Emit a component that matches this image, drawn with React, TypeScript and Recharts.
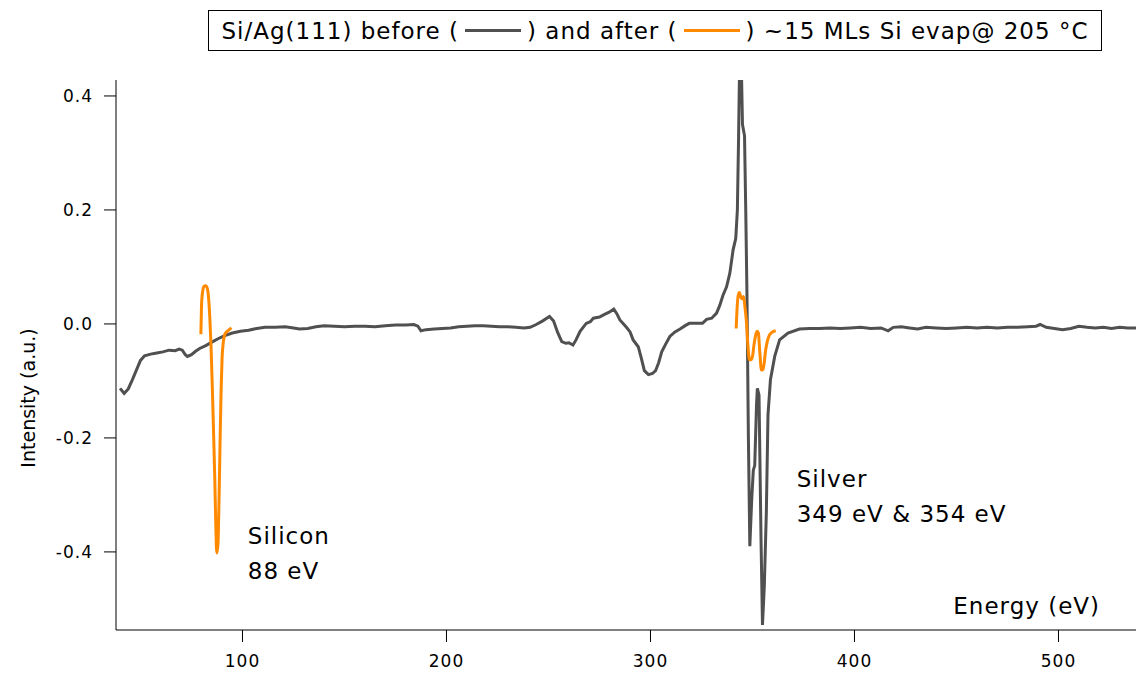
import React from 'react';
import { LineChart, Line, XAxis, YAxis, ReferenceDot } from 'recharts';

// before: Si/Ag(111) clean spectrum (energy eV, intensity a.u.)
const beforeEnergy = [
  40, 42, 44, 46, 48, 50, 52, 55, 58, 61, 64, 67, 69, 70.5, 72, 73, 75, 77, 79, 82, 85, 88, 91, 95, 99,
  103, 107, 111, 116, 121, 125, 128, 132, 136, 140, 145, 150, 155, 160, 165, 170, 175, 180, 184, 186, 187.5,
  190, 194, 198, 202, 206, 210, 214, 218, 222, 226, 230, 234, 238, 241, 244, 247, 250.5, 252.5, 254.5, 256.5,
  258.5, 260, 262, 263.5, 265.5, 268.5, 270.5, 272, 275, 277, 280, 282, 283.5, 285, 288, 290, 291.5, 294,
  295.5, 297, 299, 301, 302.5, 304, 305.5, 307.5, 309.5, 312, 314.5, 317, 319, 322, 325.5, 327.5, 330, 332.4,
  334, 335.5, 337.3, 338.9, 340.5, 341.8, 342.6, 343.2, 343.7, 344.5, 345.1, 346.1, 346.7, 347.3, 348.0, 348.7,
  349.6, 350.4, 351.1, 352.0, 352.4, 353.2, 354.2, 354.9, 355.8, 356.8, 357.6, 358.8, 360.9, 363.3, 367.4, 373,
  378, 383, 388, 393, 398, 403, 408, 413, 416.5, 419, 423, 427, 431, 435, 440, 445, 450, 455, 460, 465, 470,
  475, 480, 485, 489, 491, 494, 498, 502, 506, 510, 514, 518, 522, 526, 530, 534, 538,
];
const beforeIntensity = [
  -0.113, -0.122, -0.114, -0.098, -0.081, -0.064, -0.056, -0.053, -0.051, -0.049, -0.046, -0.047, -0.044, -0.046,
  -0.054, -0.057, -0.054, -0.048, -0.043, -0.038, -0.032, -0.026, -0.021, -0.016, -0.013, -0.011, -0.008, -0.006,
  -0.006, -0.005, -0.007, -0.009, -0.008, -0.005, -0.003, -0.004, -0.005, -0.004, -0.004, -0.005, -0.003, -0.002,
  -0.002, -0.001, -0.004, -0.012, -0.01, -0.009, -0.008, -0.007, -0.005, -0.004, -0.003, -0.003, -0.004, -0.005,
  -0.005, -0.006, -0.007, -0.006, -0.001, 0.005, 0.013, 0.005, -0.015, -0.031, -0.034, -0.033, -0.037, -0.028,
  -0.013, 0.001, 0.004, 0.01, 0.012, 0.016, 0.021, 0.026, 0.018, 0.007, -0.005, -0.014, -0.028, -0.04, -0.06,
  -0.082, -0.089, -0.087, -0.082, -0.068, -0.049, -0.035, -0.022, -0.014, -0.009, -0.003, 0.001, 0.001, 0.001,
  0.008, 0.01, 0.019, 0.033, 0.05, 0.065, 0.089, 0.13, 0.15, 0.2, 0.33, 0.46, 0.46, 0.35, 0.33, 0.2, 0.05, -0.2,
  -0.39, -0.31, -0.257, -0.248, -0.14, -0.113, -0.125, -0.38, -0.528, -0.46, -0.33, -0.16, -0.098, -0.057, -0.028,
  -0.016, -0.009, -0.008, -0.008, -0.007, -0.008, -0.007, -0.006, -0.008, -0.007, -0.012, -0.006, -0.005, -0.007,
  -0.009, -0.006, -0.007, -0.008, -0.007, -0.006, -0.007, -0.006, -0.007, -0.006, -0.006, -0.005, -0.004, -0.001,
  -0.006, -0.008, -0.01, -0.008, -0.004, -0.006, -0.007, -0.006, -0.008, -0.006, -0.007, -0.007,
];

// after: ~15 MLs Si, Si LVV and Ag MNN windows
const afterSiEnergy = [
  79.6, 79.9, 80.4, 81.2, 82.0, 82.8, 83.4, 84.0, 84.6, 85.3, 85.9, 86.4, 86.9, 87.4, 88.0, 88.5, 89.0, 89.5, 90.0,
  90.6, 91.3, 92.2, 93.2, 94.6,
];
const afterSiIntensity = [
  -0.018, 0.03, 0.055, 0.066, 0.067, 0.062, 0.045, 0.01, -0.04, -0.122, -0.2, -0.268, -0.35, -0.402, -0.385, -0.31,
  -0.21, -0.12, -0.06, -0.032, -0.019, -0.014, -0.011, -0.007,
];
const afterAgEnergy = [
  342.0, 342.5, 343.0, 343.6, 344.3, 344.9, 345.6, 346.3, 347.1, 347.8, 348.5, 349.2, 350.0, 350.8, 351.6, 352.3,
  352.9, 353.6, 354.4, 355.1, 355.7, 356.3, 357, 358, 359.5, 361.4,
];
const afterAgIntensity = [
  -0.008, 0.03, 0.05, 0.055, 0.047, 0.044, 0.048, 0.03, 0.001, -0.04, -0.063, -0.063, -0.057, -0.035, -0.019, -0.013,
  -0.016, -0.05, -0.081, -0.08, -0.07, -0.05, -0.035, -0.022, -0.015, -0.012,
];

const xTicks = [100, 200, 300, 400, 500];
const yTicks = [-0.4, -0.2, 0, 0.2, 0.4];

const siliconNote = { e: 102.6, v: -0.386, lines: ['Silicon', '88 eV'] };
const silverNote = { e: 371.7, v: -0.286, lines: ['Silver', '349 eV & 354 eV'] };

const toPoints = (xs: number[], ys: number[]) => xs.map((e, i) => ({ e, v: ys[i] }));

const before = toPoints(beforeEnergy, beforeIntensity);
const afterSi = toPoints(afterSiEnergy, afterSiIntensity);
const afterAg = toPoints(afterAgEnergy, afterAgIntensity);

const GRAY = '#505050';
const ORANGE = '#ff8a00';
const FONT = '"DejaVu Sans", Verdana, sans-serif';

function Note({ viewBox, lines }: any) {
  return (
    <text x={viewBox.x} y={viewBox.y} fontSize={23} letterSpacing={1} fill="#000" fontFamily={FONT}>
      {lines.map((l: string, i: number) => (
        <tspan key={i} x={viewBox.x} dy={i === 0 ? 0 : 35}>
          {l}
        </tspan>
      ))}
    </text>
  );
}

function YTitle({ viewBox }: any) {
  const x = viewBox.x + 28;
  const y = viewBox.y + viewBox.height / 2 + 43;
  return (
    <text x={x} y={y} transform={`rotate(-90 ${x} ${y})`} textAnchor="middle" dominantBaseline="central" fontSize={19} fill="#000">
      Intensity (a.u.)
    </text>
  );
}

function XTitle({ viewBox }: any) {
  return (
    <text x={viewBox.x + viewBox.width - 36} y={viewBox.y - 16} textAnchor="end" fontSize={23} letterSpacing={1} fill="#000">
      Energy (eV)
    </text>
  );
}

function Tick({ x, y, payload, textAnchor, vertical }: any) {
  const label = vertical ? payload.value.toFixed(1) : String(payload.value);
  return (
    <text
      x={x}
      y={y}
      textAnchor={textAnchor}
      dy={vertical ? 6 : 19}
      fontSize={17}
      letterSpacing={1}
      fill="#000"
      fontFamily={FONT}
    >
      {label}
    </text>
  );
}

function LegendBox() {
  const seg = (c: string) => (
    <span style={{ display: 'inline-block', width: 56, height: 3, background: c, margin: '0 6px', verticalAlign: 'middle' }} />
  );
  return (
    <div
      style={{
        position: 'absolute',
        left: 208,
        top: 10,
        width: 894,
        height: 41,
        boxSizing: 'border-box',
        border: '1px solid #000',
        background: '#fff',
        display: 'flex',
        alignItems: 'center',
        justifyContent: 'center',
        fontFamily: FONT,
        fontSize: 23,
        letterSpacing: 1,
        whiteSpace: 'nowrap',
      }}
    >
      Si/Ag(111) before ({seg(GRAY)}) and after ({seg(ORANGE)}) ~15 MLs Si evap@ 205 °C
    </div>
  );
}

export default function App() {
  return (
    <div style={{ position: 'absolute', left: 0, top: 0, width: 1136, height: 674, background: '#fff' }}>
      <LineChart width={1136} height={674} margin={{ top: 80, right: 0, bottom: 0, left: 0 }} style={{ fontFamily: FONT }}>
        <XAxis
          type="number"
          dataKey="e"
          domain={[38, 538]}
          ticks={xTicks}
          allowDataOverflow
          height={44}
          tickSize={12}
          tickMargin={6}
          stroke="#000"
          tick={<Tick />}
          label={<XTitle />}
        />
        <YAxis
          type="number"
          dataKey="v"
          domain={[-0.537, 0.428]}
          ticks={yTicks}
          allowDataOverflow
          width={116}
          tickSize={12}
          tickMargin={11}
          stroke="#000"
          tick={<Tick vertical />}
          label={<YTitle />}
        />
        <Line data={before} dataKey="v" type="linear" stroke={GRAY} strokeWidth={3} dot={false} isAnimationActive={false} />
        <Line data={afterSi} dataKey="v" type="monotone" stroke={ORANGE} strokeWidth={3} dot={false} isAnimationActive={false} />
        <Line data={afterAg} dataKey="v" type="monotone" stroke={ORANGE} strokeWidth={3} dot={false} isAnimationActive={false} />
        <ReferenceDot x={siliconNote.e} y={siliconNote.v} r={0} fill="none" stroke="none" label={<Note lines={siliconNote.lines} />} />
        <ReferenceDot x={silverNote.e} y={silverNote.v} r={0} fill="none" stroke="none" label={<Note lines={silverNote.lines} />} />
      </LineChart>
      <LegendBox />
    </div>
  );
}
